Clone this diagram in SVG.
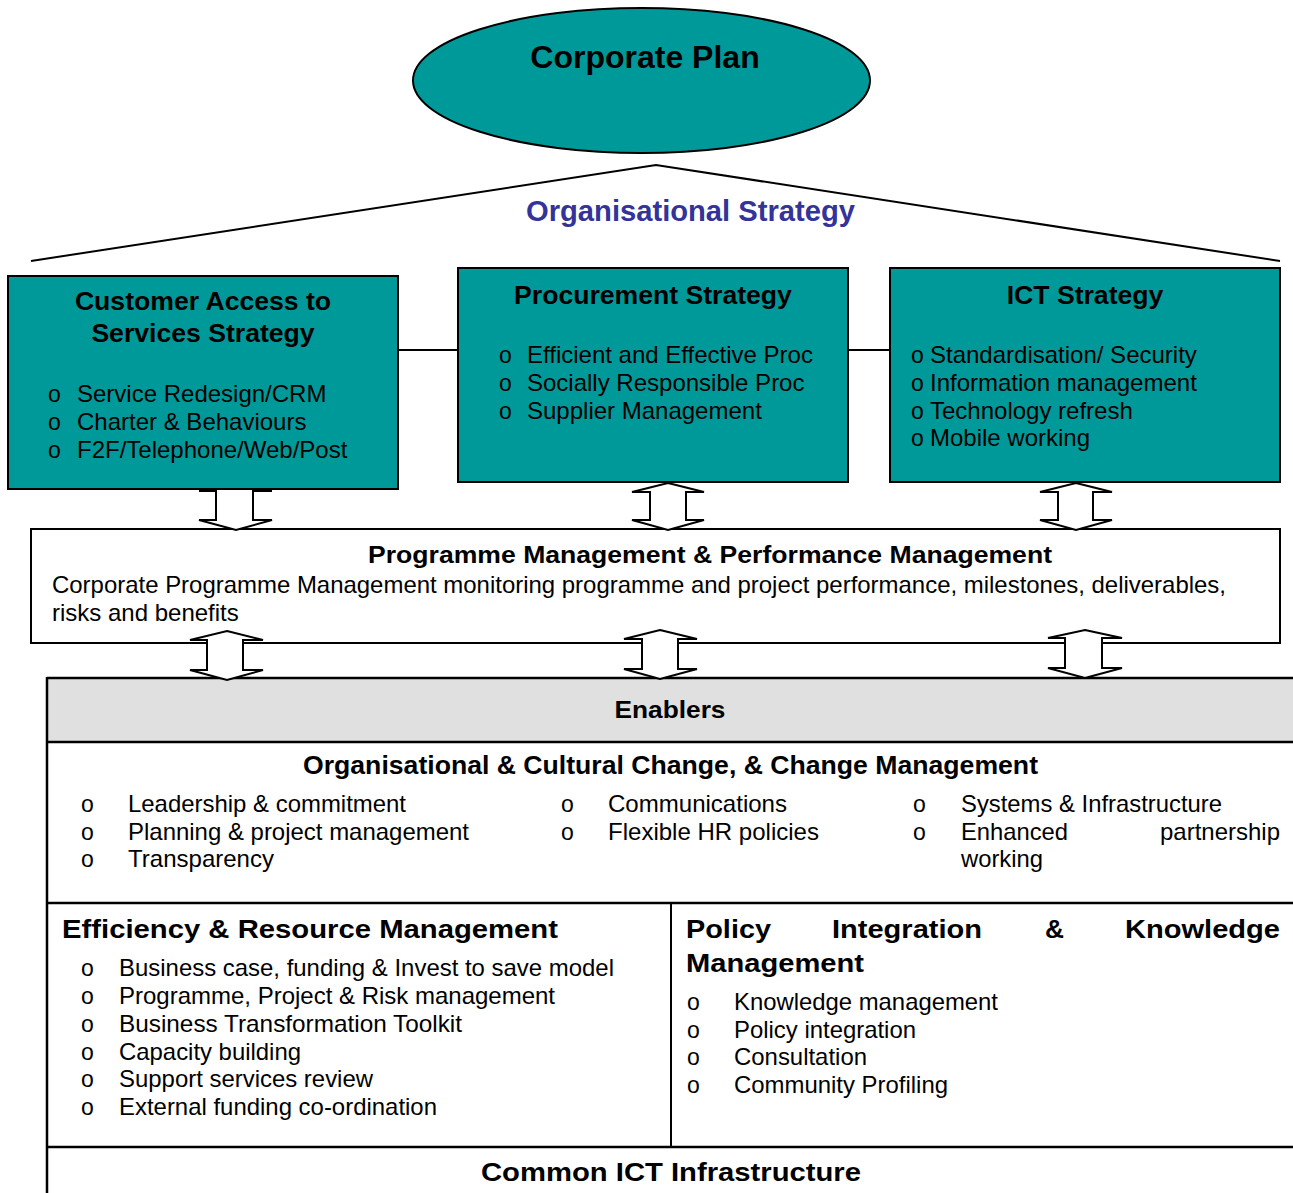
<svg xmlns="http://www.w3.org/2000/svg" width="1293" height="1193" viewBox="0 0 1293 1193">
<style>
text{font-family:"Liberation Sans",Arial,sans-serif;fill:#000}
.b{font-weight:bold}
.teal{fill:#009999;stroke:#000;stroke-width:2}
.ln{stroke:#000;stroke-width:2;fill:none}
.tl{stroke:#000;stroke-width:2.5;fill:none}
.arr{fill:#fff;stroke:#000;stroke-width:2;stroke-linejoin:miter}
.t24{font-size:24px}
.h27{font-size:26.6px;font-weight:bold}
.bu{font-size:23px}
</style>
<rect width="1293" height="1193" fill="#fff"/>

<g id="corporate-plan">
<ellipse cx="641.5" cy="80.5" rx="228.5" ry="72.5" class="teal"/>
<text x="645" y="68" text-anchor="middle" class="b" font-size="32">Corporate Plan</text>
</g>

<g id="organisational-strategy">
<polyline points="31,261 656,165 1280,261" class="ln"/>
<text x="690.5" y="221" text-anchor="middle" class="b" font-size="29" style="fill:#333399" textLength="329" lengthAdjust="spacingAndGlyphs">Organisational Strategy</text>
</g>

<g id="connectors">
<line x1="398" y1="350" x2="458" y2="350" class="ln"/>
<line x1="848" y1="350" x2="890" y2="350" class="ln"/>
</g>

<g id="customer-access">
<rect x="8" y="276" width="390" height="213" class="teal"/>
<text x="203" y="310" text-anchor="middle" class="h27">Customer Access to</text>
<text x="203" y="342" text-anchor="middle" class="h27">Services Strategy</text>
<text x="48" y="402" class="bu">o</text><text x="77" y="402" class="t24">Service Redesign/CRM</text>
<text x="48" y="430" class="bu">o</text><text x="77" y="430" class="t24">Charter &amp; Behaviours</text>
<text x="48" y="458" class="bu">o</text><text x="77" y="458" class="t24">F2F/Telephone/Web/Post</text>
</g>

<g id="procurement">
<rect x="458" y="268" width="390" height="214" class="teal"/>
<text x="653" y="304" text-anchor="middle" class="h27">Procurement Strategy</text>
<text x="499" y="363" class="bu">o</text><text x="527" y="363" class="t24">Efficient and Effective Proc</text>
<text x="499" y="391" class="bu">o</text><text x="527" y="391" class="t24">Socially Responsible Proc</text>
<text x="499" y="419" class="bu">o</text><text x="527" y="419" class="t24">Supplier Management</text>
</g>

<g id="ict-strategy">
<rect x="890" y="268" width="390" height="214" class="teal"/>
<text x="1085" y="304" text-anchor="middle" class="h27">ICT Strategy</text>
<text x="911" y="363" class="bu">o</text><text x="930" y="363" class="t24">Standardisation/ Security</text>
<text x="911" y="391" class="bu">o</text><text x="930" y="391" class="t24">Information management</text>
<text x="911" y="419" class="bu">o</text><text x="930" y="419" class="t24">Technology refresh</text>
<text x="911" y="446" class="bu">o</text><text x="930" y="446" class="t24">Mobile working</text>
</g>

<g id="programme-management">
<rect x="31" y="529" width="1249" height="114" fill="#fff" stroke="#000" stroke-width="2"/>
<text x="710" y="563" text-anchor="middle" class="b" font-size="24.5" textLength="684" lengthAdjust="spacingAndGlyphs">Programme Management &amp; Performance Management</text>
<text x="52" y="593" class="t24" textLength="1174" lengthAdjust="spacingAndGlyphs">Corporate Programme Management monitoring programme and project performance, milestones, deliverables,</text>
<text x="52" y="621" class="t24">risks and benefits</text>
</g>

<g id="enablers">
<rect x="47" y="678" width="1260" height="64" fill="#e0e0e0"/>
<line x1="47" y1="678" x2="1293" y2="678" class="tl"/>
<line x1="47" y1="742" x2="1293" y2="742" class="tl"/>
<line x1="47" y1="903" x2="1293" y2="903" class="tl"/>
<line x1="47" y1="1147" x2="1293" y2="1147" class="tl"/>
<line x1="47" y1="677" x2="47" y2="1193" class="tl"/>
<line x1="671" y1="903" x2="671" y2="1147" class="ln"/>
<text x="670" y="718" text-anchor="middle" class="b" font-size="24" textLength="111" lengthAdjust="spacingAndGlyphs">Enablers</text>
</g>

<g id="cultural-change">
<text x="670.5" y="774" text-anchor="middle" class="b" font-size="25" textLength="735" lengthAdjust="spacingAndGlyphs">Organisational &amp; Cultural Change, &amp; Change Management</text>
<text x="81" y="812" class="bu">o</text><text x="128" y="812" class="t24" textLength="278" lengthAdjust="spacingAndGlyphs">Leadership &amp; commitment</text>
<text x="81" y="840" class="bu">o</text><text x="128" y="840" class="t24" textLength="341" lengthAdjust="spacingAndGlyphs">Planning &amp; project management</text>
<text x="81" y="867" class="bu">o</text><text x="128" y="867" class="t24" textLength="146" lengthAdjust="spacingAndGlyphs">Transparency</text>
<text x="561" y="812" class="bu">o</text><text x="608" y="812" class="t24" textLength="179" lengthAdjust="spacingAndGlyphs">Communications</text>
<text x="561" y="840" class="bu">o</text><text x="608" y="840" class="t24" textLength="211" lengthAdjust="spacingAndGlyphs">Flexible HR policies</text>
<text x="913" y="812" class="bu">o</text><text x="961" y="812" class="t24" textLength="261" lengthAdjust="spacingAndGlyphs">Systems &amp; Infrastructure</text>
<text x="913" y="840" class="bu">o</text><text x="961" y="840" class="t24" textLength="107" lengthAdjust="spacingAndGlyphs">Enhanced</text>
<text x="1280" y="840" text-anchor="end" class="t24" textLength="120" lengthAdjust="spacingAndGlyphs">partnership</text>
<text x="961" y="867" class="t24" textLength="82" lengthAdjust="spacingAndGlyphs">working</text>
</g>

<g id="efficiency">
<text x="62" y="938" class="b" font-size="26" textLength="496" lengthAdjust="spacingAndGlyphs">Efficiency &amp; Resource Management</text>
<text x="81" y="976" class="bu">o</text><text x="119" y="976" class="t24" textLength="495" lengthAdjust="spacingAndGlyphs">Business case, funding &amp; Invest to save model</text>
<text x="81" y="1004" class="bu">o</text><text x="119" y="1004" class="t24" textLength="436" lengthAdjust="spacingAndGlyphs">Programme, Project &amp; Risk management</text>
<text x="81" y="1032" class="bu">o</text><text x="119" y="1032" class="t24" textLength="343" lengthAdjust="spacingAndGlyphs">Business Transformation Toolkit</text>
<text x="81" y="1060" class="bu">o</text><text x="119" y="1060" class="t24" textLength="182" lengthAdjust="spacingAndGlyphs">Capacity building</text>
<text x="81" y="1087" class="bu">o</text><text x="119" y="1087" class="t24" textLength="254" lengthAdjust="spacingAndGlyphs">Support services review</text>
<text x="81" y="1115" class="bu">o</text><text x="119" y="1115" class="t24" textLength="318" lengthAdjust="spacingAndGlyphs">External funding co-ordination</text>
</g>

<g id="policy-integration">
<text x="686" y="938" class="b" font-size="26" textLength="85" lengthAdjust="spacingAndGlyphs">Policy</text>
<text x="832" y="938" class="b" font-size="26" textLength="150" lengthAdjust="spacingAndGlyphs">Integration</text>
<text x="1045" y="938" class="b" font-size="26" textLength="19" lengthAdjust="spacingAndGlyphs">&amp;</text>
<text x="1125" y="938" class="b" font-size="26" textLength="155" lengthAdjust="spacingAndGlyphs">Knowledge</text>
<text x="686" y="972" class="b" font-size="26" textLength="178" lengthAdjust="spacingAndGlyphs">Management</text>
<text x="687" y="1010" class="bu">o</text><text x="734" y="1010" class="t24" textLength="264" lengthAdjust="spacingAndGlyphs">Knowledge management</text>
<text x="687" y="1038" class="bu">o</text><text x="734" y="1038" class="t24" textLength="182" lengthAdjust="spacingAndGlyphs">Policy integration</text>
<text x="687" y="1065" class="bu">o</text><text x="734" y="1065" class="t24" textLength="133" lengthAdjust="spacingAndGlyphs">Consultation</text>
<text x="687" y="1093" class="bu">o</text><text x="734" y="1093" class="t24" textLength="214" lengthAdjust="spacingAndGlyphs">Community Profiling</text>
</g>

<g id="common-ict">
<text x="671" y="1181" text-anchor="middle" class="b" font-size="26" textLength="380" lengthAdjust="spacingAndGlyphs">Common ICT Infrastructure</text>
</g>

<g id="arrows">
<polyline points="199,491 216,491 216,520 199,520 236,530 272,520 253,520 253,491 272,491" class="arr"/>
<polygon points="668,483 704,492 686,492 686,520 704,520 668,530 632,520 650,520 650,492 632,492" class="arr"/>
<polygon points="1076,483 1112,492 1093,492 1093,520 1112,520 1076,530 1040,520 1058,520 1058,492 1040,492" class="arr"/>
<polygon points="227,631 263,640 243,640 243,670 263,670 227,680 190,670 207,670 207,640 190,640" class="arr"/>
<polygon points="660,630 697,639 678,639 678,669 697,669 660,679 624,669 642,669 642,639 624,639" class="arr"/>
<polygon points="1085,630 1122,638 1102,638 1102,668 1122,668 1085,678 1048,668 1065,668 1065,638 1048,638" class="arr"/>
</g>
</svg>
